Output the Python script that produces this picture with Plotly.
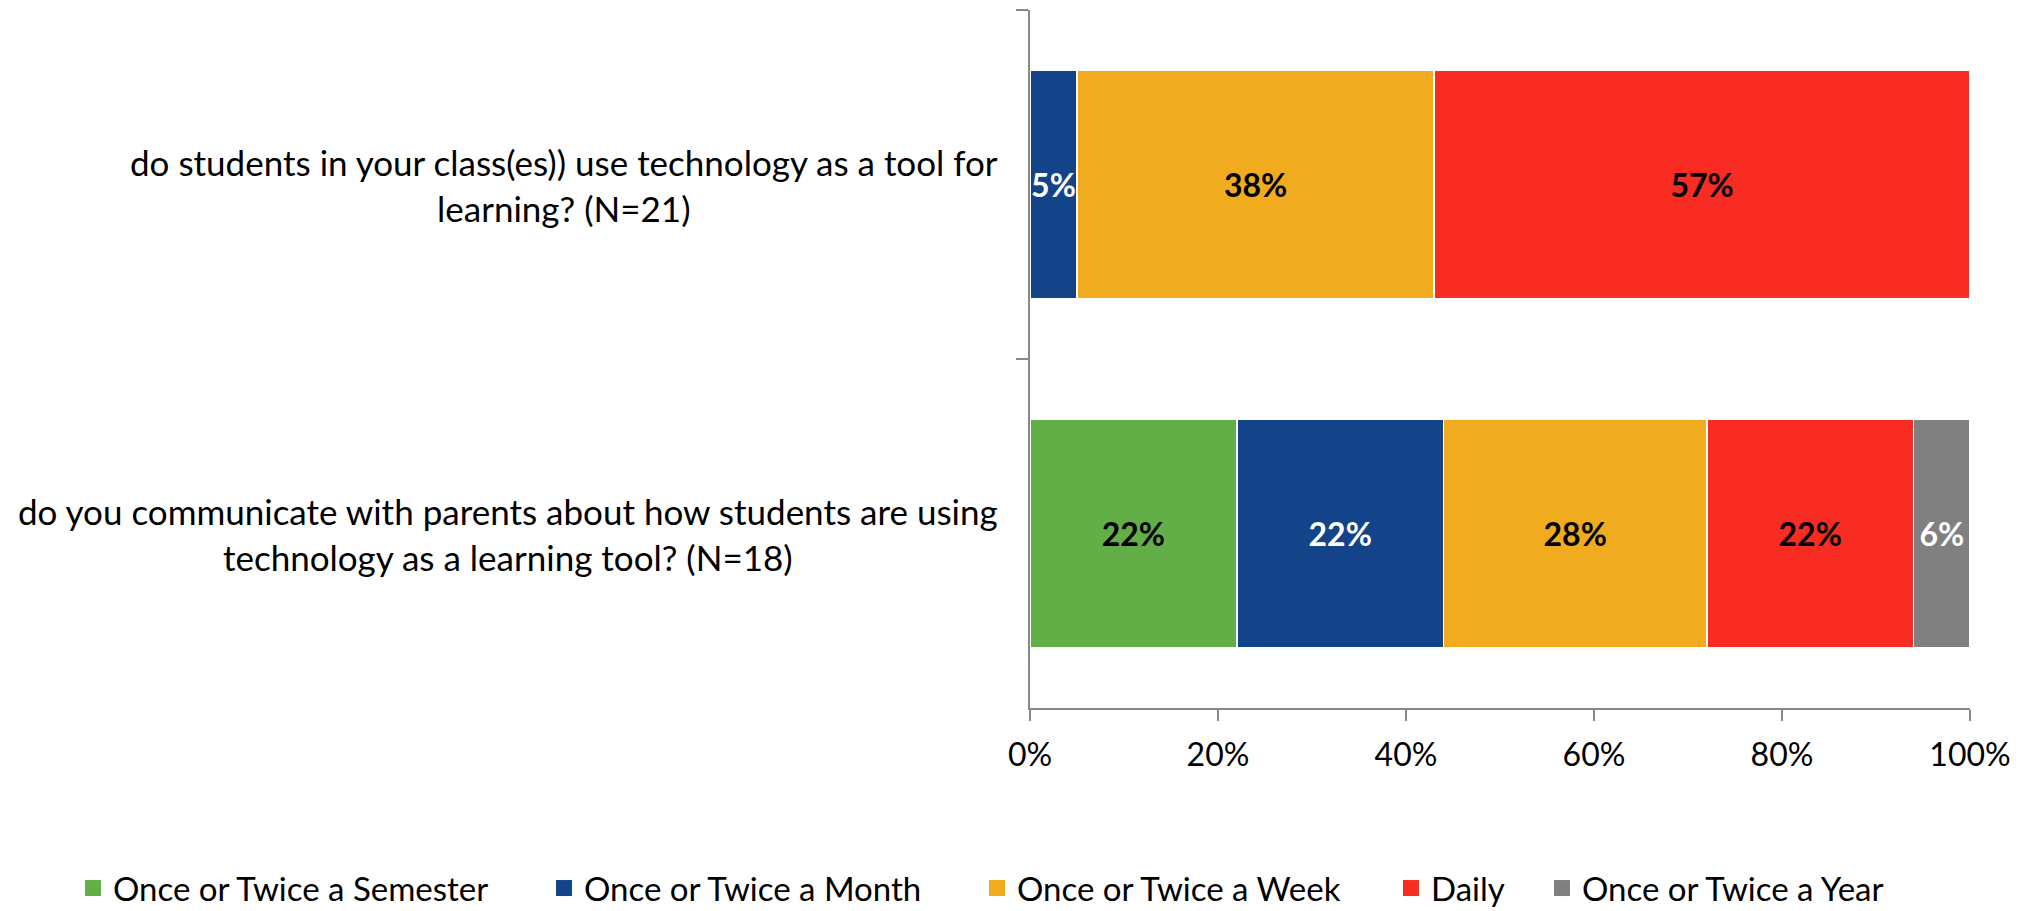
import plotly.graph_objects as go

categories = [
    "do students in your class(es)) use technology as a tool for<br>learning? (N=21)",
    "do you communicate with parents about how students are using<br>technology as a learning tool? (N=18)",
]
series_names = [
    "Once or Twice a Semester",
    "Once or Twice a Month",
    "Once or Twice a Week",
    "Daily",
    "Once or Twice a Year",
]
semester = [0, 22]
month = [5, 22]
week = [38, 28]
daily = [57, 22]
year = [0, 6]
series_values = [semester, month, week, daily, year]
colors = ["#62AE47", "#134388", "#F0AB1E", "#F82C22", "#808080"]
text_colors = ["black", "white", "black", "black", "white"]
x_ticks = [0, 20, 40, 60, 80, 100]
x_tick_labels = ["0%", "20%", "40%", "60%", "80%", "100%"]

FONT = "Lato"
# legend placement (paper x of each legend entry, left anchored)
legend_x = [-1.0181, -0.5170, -0.0564, 0.3840, 0.5447]
legend_ids = ["legend", "legend2", "legend3", "legend4", "legend5"]

fig = go.Figure()
for name, vals, col, tcol in zip(series_names, series_values, colors, text_colors):
    fig.add_trace(go.Bar(
        y=categories,
        x=vals,
        name=name,
        orientation="h",
        marker=dict(color=col, line=dict(color="white", width=1.5)),
        text=[f"{v}%" if v > 0 else "" for v in vals],
        textposition="inside",
        insidetextanchor="middle",
        textangle=0,
        textfont=dict(family=FONT, size=32, color=tcol, weight="bold"),
        constraintext="none",
        hoverinfo="x+name",
        showlegend=False,
    ))

# legend entries (square swatches)
for name, col, lid in zip(series_names, colors, legend_ids):
    fig.add_trace(go.Scatter(
        x=[None], y=[None], mode="markers", name=name,
        marker=dict(symbol="square", size=16, color=col),
        legend=lid, showlegend=True, hoverinfo="skip",
    ))

for cat in categories:
    fig.add_annotation(
        x=0, xref="paper", y=cat, yref="y",
        text=cat, showarrow=False, xanchor="right", yanchor="middle",
        align="center", xshift=-30,
        font=dict(family=FONT, size=35, color="black"),
    )

legend_common = dict(
    orientation="h", xref="paper", yref="paper",
    y=-0.258, xanchor="left", yanchor="middle",
    font=dict(family=FONT, size=33, color="black"),
    itemwidth=30, bgcolor="rgba(0,0,0,0)",
)
layout_legends = {lid: dict(legend_common, x=lx) for lid, lx in zip(legend_ids, legend_x)}

fig.update_layout(
    barmode="stack",
    bargap=0.343,
    width=2030, height=911,
    margin=dict(l=1030, r=60, t=10, b=203, autoexpand=False),
    plot_bgcolor="white",
    paper_bgcolor="white",
    font=dict(family=FONT, size=32, color="black"),
    uniformtext=dict(mode=False),
    showlegend=True,
    **layout_legends,
)
fig.update_xaxes(
    range=[0, 100],
    tickvals=x_ticks, ticktext=x_tick_labels,
    showgrid=False, zeroline=False,
    showline=True, linecolor="#888888", linewidth=2,
    ticks="outside", ticklen=11, tickcolor="#888888", tickwidth=2,
    tickfont=dict(family=FONT, size=32, color="black"),
    ticklabelstandoff=7,
)
fig.update_yaxes(
    categoryorder="array", categoryarray=categories,
    autorange="reversed",
    showticklabels=False,
    showgrid=False, zeroline=False,
    showline=True, linecolor="#888888", linewidth=2,
    ticks="outside", ticklen=12, tickcolor="#888888", tickwidth=2,
    tickson="boundaries",
)

fig.write_html(
    "out.html",
    config={"displayModeBar": False},
    post_script="document.body.style.margin='0';document.body.style.overflow='hidden';",
)
